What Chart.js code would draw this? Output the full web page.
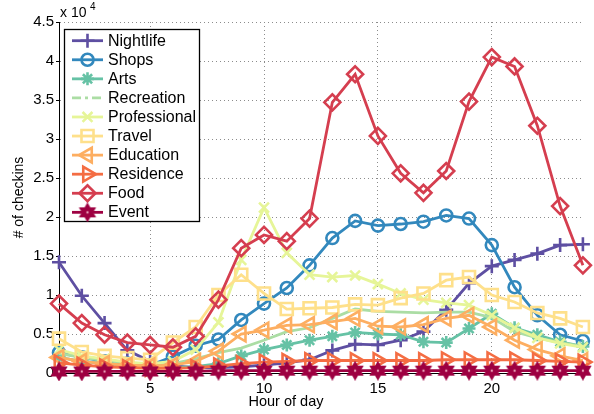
<!DOCTYPE html>
<html><head><meta charset="utf-8">
<script src="https://cdn.jsdelivr.net/npm/chart.js@4/dist/chart.umd.min.js"></script>
<style>html,body{margin:0;padding:0;background:#fff;}#wrap{width:594px;height:414px;}</style>
</head><body><div id="wrap"><canvas id="c" width="594" height="414"></canvas></div>
<script>
// ---- data (checkins per hour of day) ----
const hours = [1,2,3,4,5,6,7,8,9,10,11,12,13,14,15,16,17,18,19,20,21,22,23,24];
const seriesNames = ['Nightlife','Shops','Arts','Recreation','Professional','Travel','Education','Residence','Food','Event'];
const nightlife   = [14200,9900,6400,2900,1500,900,700,700,800,1000,1300,1700,2900,3700,3600,4200,5300,8100,11500,13700,14500,15300,16400,16500];
const shops       = [2600,2000,1500,1200,1000,2100,3500,4300,6800,8900,10900,13800,17300,19500,18900,19100,19400,20200,19800,16400,11000,7400,4900,4100];
const arts        = [2000,1500,1200,1000,800,700,800,1200,2200,3000,3600,4200,4700,5200,5000,4900,4000,3900,5700,7600,5800,4900,4000,3400];
const recreation  = [2500,2000,1600,1300,1100,1200,1800,2600,3200,4200,5300,5800,7000,8200,7900,7800,7700,7800,7800,7100,5300,4500,3900,3400];
const professional= [3000,2200,1800,1400,1200,1500,3000,6500,14500,21200,15400,12600,12300,12500,11400,10200,9400,9000,8700,7400,5800,4500,3800,3300];
const travel      = [4400,2700,2200,1900,1700,3900,5900,10000,12600,10200,8200,8300,8400,8800,8700,9600,10200,11900,12300,10000,9100,7700,7000,5900];
const education   = [2000,1500,1200,1000,900,1000,1500,2800,5000,5500,6100,6200,6600,7000,6000,5900,6200,7000,7400,5900,4200,3000,2200,1600];
const residence   = [1300,1000,800,700,600,600,700,900,1200,1400,1500,1600,1600,1600,1600,1600,1600,1700,1700,1700,1700,1600,1500,1400];
const food        = [8900,6400,4900,3900,3600,3300,4700,9400,16000,17700,16900,19800,34700,38300,30400,25600,23100,25900,34800,40500,39300,31700,21400,13800];
const event       = [200,200,200,200,200,200,200,300,300,300,300,300,300,300,300,300,300,300,300,300,300,300,300,300];
const xTickValues = [5,10,15,20];
const yTickStep = 5000;
const yMax = 45000;

// ---- styles ----
const colors = ['#5e4fa2','#3288bd','#66c2a5','#abdda4','#e6f598','#fee08b','#fdae61','#f46d43','#d53e4f','#9e0142'];

function hexagram(color){
  const s = 20, c = document.createElement('canvas');
  c.width = s; c.height = s;
  const g = c.getContext('2d');
  g.strokeStyle = color; g.lineWidth = 2.2; g.lineJoin = 'miter';
  const r = 7.8, cx = s/2, cy = s/2;
  g.beginPath();
  for (let k = 0; k < 12; k++) {
    const a = -Math.PI/2 + k*Math.PI/6;
    const rr = (k % 2 === 0) ? r : r*0.577;
    const px = cx + rr*Math.cos(a), py = cy + rr*Math.sin(a);
    if (k === 0) g.moveTo(px, py); else g.lineTo(px, py);
  }
  g.closePath();
  g.fillStyle = color; g.fill();
  g.stroke();
  g.fillStyle = '#e8a0b8';
  g.beginPath(); g.arc(cx, cy, 1.2, 0, Math.PI*2); g.fill();
  return c;
}

const markers = [
  {style:'cross', radius:7, rot:0},
  {style:'circle', radius:6, rot:0},
  {style:'star', radius:6.5, rot:0},
  {style:false, radius:0, rot:0},
  {style:'crossRot', radius:7, rot:0},
  {style:'rect', radius:8.5, rot:0},
  {style:'triangle', radius:8.5, rot:-90},
  {style:'triangle', radius:8.5, rot:90},
  {style:'rectRot', radius:8, rot:0},
  {style:hexagram('#9e0142'), radius:8, rot:0}
];
const allSeries = [nightlife,shops,arts,recreation,professional,travel,education,residence,food,event];

const datasets = allSeries.map((vals,i) => ({
  label: seriesNames[i],
  data: hours.map((h,j) => ({x:h, y:vals[j]})),
  borderColor: colors[i],
  backgroundColor: 'rgba(0,0,0,0)',
  borderWidth: 2.8,
  pointStyle: markers[i].style,
  pointRadius: markers[i].style ? markers[i].radius : 0,
  pointRotation: markers[i].rot,
  pointBorderColor: colors[i],
  pointBackgroundColor: 'rgba(0,0,0,0)',
  pointBorderWidth: 2.6,
  tension: 0,
  fill: false,
  clip: false,
  order: allSeries.length - 1 - i
}));

const FONT = '"Liberation Sans", Arial, Helvetica, sans-serif';

const extrasPlugin = {
  id: 'extras',
  afterDraw(chart) {
    const ctx = chart.ctx;
    ctx.save();
    // exponent label
    ctx.fillStyle = '#000';
    ctx.textBaseline = 'alphabetic';
    ctx.textAlign = 'left';
    ctx.font = '14px ' + FONT;
    ctx.fillText('x 10', 60, 17);
    ctx.font = '10px ' + FONT;
    ctx.fillText('4', 90, 10);
    // x axis title
    ctx.font = '14.5px ' + FONT;
    ctx.textAlign = 'center';
    ctx.textBaseline = 'middle';
    ctx.fillText('Hour of day', 286, 402);

    // legend
    const bx = 64.5, by = 29.5, bw = 135, bh = 192;
    ctx.fillStyle = '#fff';
    ctx.fillRect(bx, by, bw, bh);
    ctx.strokeStyle = '#000';
    ctx.lineWidth = 1.3;
    ctx.strokeRect(bx, by, bw, bh);
    const rowH = 19.07;
    chart.data.datasets.forEach((ds, i) => {
      const y = 40.7 + i*rowH;
      ctx.save();
      ctx.strokeStyle = ds.borderColor;
      ctx.lineWidth = 2.8;
      if (i === 3) ctx.setLineDash([9,4,3,4]); else ctx.setLineDash([]);
      ctx.beginPath(); ctx.moveTo(72, y); ctx.lineTo(103, y); ctx.stroke();
      ctx.setLineDash([]);
      if (ds.pointStyle && Chart.helpers && Chart.helpers.drawPoint) {
        ctx.strokeStyle = ds.pointBorderColor;
        ctx.fillStyle = 'rgba(0,0,0,0)';
        ctx.lineWidth = ds.pointBorderWidth;
        Chart.helpers.drawPoint(ctx, {pointStyle: ds.pointStyle, rotation: ds.pointRotation, radius: ds.pointRadius, borderWidth: ds.pointBorderWidth}, 87.5, y);
      }
      ctx.restore();
      ctx.fillStyle = '#000';
      ctx.font = '16px ' + FONT;
      ctx.textAlign = 'left';
      ctx.textBaseline = 'middle';
      ctx.fillText(ds.label, 108, y + 0.5);
    });
    ctx.restore();
  }
};

new Chart(document.getElementById('c'), {
  type: 'line',
  data: { datasets },
  options: {
    responsive: false,
    animation: false,
    devicePixelRatio: 1,
    layout: { padding: { left: 0, right: 4, top: 22, bottom: 0 } },
    plugins: { legend: { display: false }, tooltip: { enabled: false } },
    scales: {
      x: {
        type: 'linear', min: 1, max: 24,
        afterBuildTicks: s => { s.ticks = xTickValues.map(v => ({value: v})); },
        afterFit: s => { s.height = 41; },
        ticks: { color: '#000', font: { family: FONT, size: 15 }, padding: 4, maxRotation: 0, autoSkip: false },
        grid: { color: '#8c8c8c', lineWidth: 1, drawTicks: true, tickLength: 3, tickColor: '#000', tickBorderDash: [] },
        border: { display: true, color: '#000', width: 1, dash: [1, 3] }
      },
      y: {
        min: 0, max: yMax,
        afterFit: s => { s.width = 59; },
        ticks: { stepSize: yTickStep, color: '#000', font: { family: FONT, size: 15 }, padding: 2,
                 callback: v => String(v / 10000) },
        grid: { color: '#8c8c8c', lineWidth: 1, drawTicks: true, tickLength: 3, tickColor: '#000', tickBorderDash: [] },
        border: { display: true, color: '#000', width: 1, dash: [1, 3] },
        title: { display: true, text: '# of checkins', color: '#000', font: { family: FONT, size: 14 }, padding: { top: 11, bottom: 0 } }
      }
    }
  },
  plugins: [extrasPlugin]
});
</script></body></html>
